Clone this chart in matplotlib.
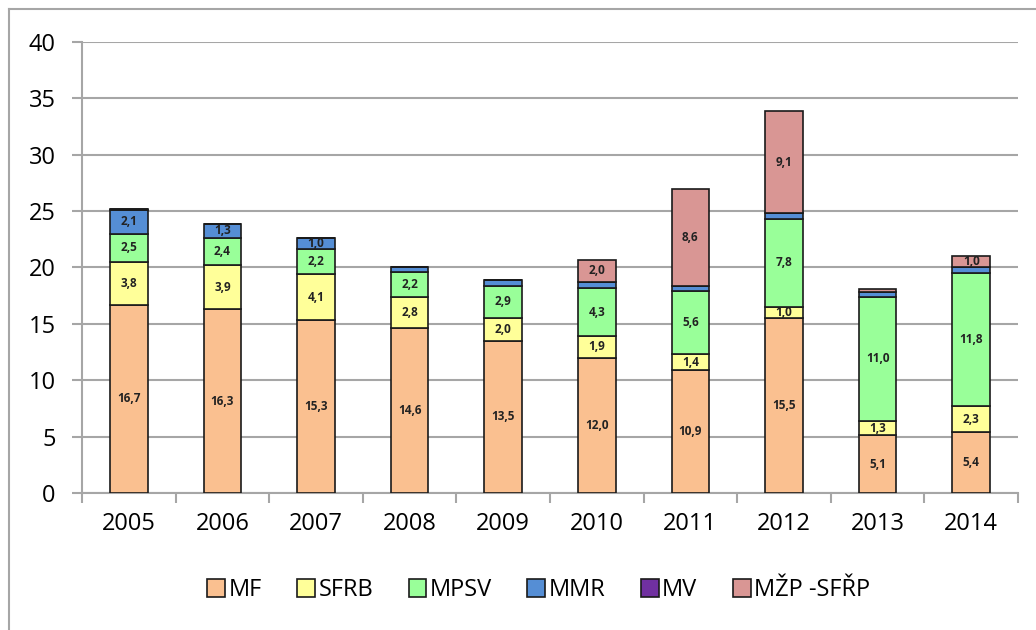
import matplotlib.pyplot as plt
from matplotlib.lines import Line2D
import numpy as np

plt.rcParams['font.family'] = ['Open Sans', 'DejaVu Sans']

# --- DATA ---
years = ['2005', '2006', '2007', '2008', '2009', '2010', '2011', '2012', '2013', '2014']
mf = [16.7, 16.3, 15.3, 14.6, 13.5, 12.0, 10.9, 15.5, 5.1, 5.4]
sfrb = [3.8, 3.9, 4.1, 2.8, 2.0, 1.9, 1.4, 1.0, 1.3, 2.3]
mpsv = [2.5, 2.4, 2.2, 2.2, 2.9, 4.3, 5.6, 7.8, 11.0, 11.8]
mmr = [2.1, 1.3, 1.0, 0.4, 0.5, 0.5, 0.5, 0.5, 0.4, 0.5]
mv = [0.05, 0.0, 0.0, 0.05, 0.0, 0.0, 0.0, 0.0, 0.0, 0.0]
mzp = [0.0, 0.0, 0.0, 0.0, 0.0, 2.0, 8.6, 9.1, 0.3, 1.0]

series = [
    ('MF', mf, '#FAC090'),
    ('SFRB', sfrb, '#FFFF99'),
    ('MPSV', mpsv, '#99FF99'),
    ('MMR', mmr, '#558ED5'),
    ('MV', mv, '#7030A0'),
    ('MŽP -SFŘP', mzp, '#D99694'),
]

fig = plt.figure(figsize=(10.36, 6.3), dpi=100)
ax = fig.add_axes([0.0792, 0.2175, 0.9034, 0.7158])

x = np.arange(len(years))
bottom = np.zeros(len(years))
for name, vals, color in series:
    vals = np.array(vals)
    ax.bar(x, vals, 0.4, bottom=bottom, color=color, edgecolor='#1a1a1a',
           linewidth=1.2, zorder=3, label=name)
    for xi, v, b in zip(x, vals, bottom):
        if v >= 1.0:
            ax.text(xi, b + v / 2, f'{v:.1f}'.replace('.', ','), ha='center',
                    va='center', fontsize=8.5, fontweight='bold', color='#222222',
                    zorder=4)
    bottom += vals

ax.set_xlim(-0.5, len(years) - 0.5)
ax.set_ylim(0, 40)
ax.set_yticks(range(0, 41, 5))
ax.yaxis.grid(True, color='#A6A6A6', linewidth=1.5, zorder=0)
ax.set_axisbelow(True)

ax.set_xticks(x)
ax.set_xticklabels(years)
ax.set_xticks(np.arange(-0.5, len(years), 1), minor=True)
ax.tick_params(axis='x', which='major', length=0, pad=14, labelsize=17)
ax.tick_params(axis='x', which='minor', length=7, width=1.5, color='#A6A6A6')
ax.tick_params(axis='y', length=7, width=1.5, color='#A6A6A6', pad=12, labelsize=17)

for side in ['top', 'right']:
    ax.spines[side].set_visible(False)
for side in ['left', 'bottom']:
    ax.spines[side].set_color('#A6A6A6')
    ax.spines[side].set_linewidth(1.5)

handles, labels = ax.get_legend_handles_labels()
leg = fig.legend(handles, labels, loc='center', bbox_to_anchor=(0.52, 0.063),
                 ncol=6, frameon=False, fontsize=17, handlelength=0.75,
                 handleheight=0.75, handletextpad=0.15, columnspacing=1.5)

# outer frame of the pasted chart
fig.add_artist(Line2D([9 / 1036, 1.0], [1 - 9 / 630, 1 - 9 / 630],
                      color='#A6A6A6', linewidth=1.5, transform=fig.transFigure))
fig.add_artist(Line2D([9 / 1036, 9 / 1036], [0.0, 1 - 9 / 630],
                      color='#A6A6A6', linewidth=1.5, transform=fig.transFigure))

fig.savefig('out.png', dpi=100)
